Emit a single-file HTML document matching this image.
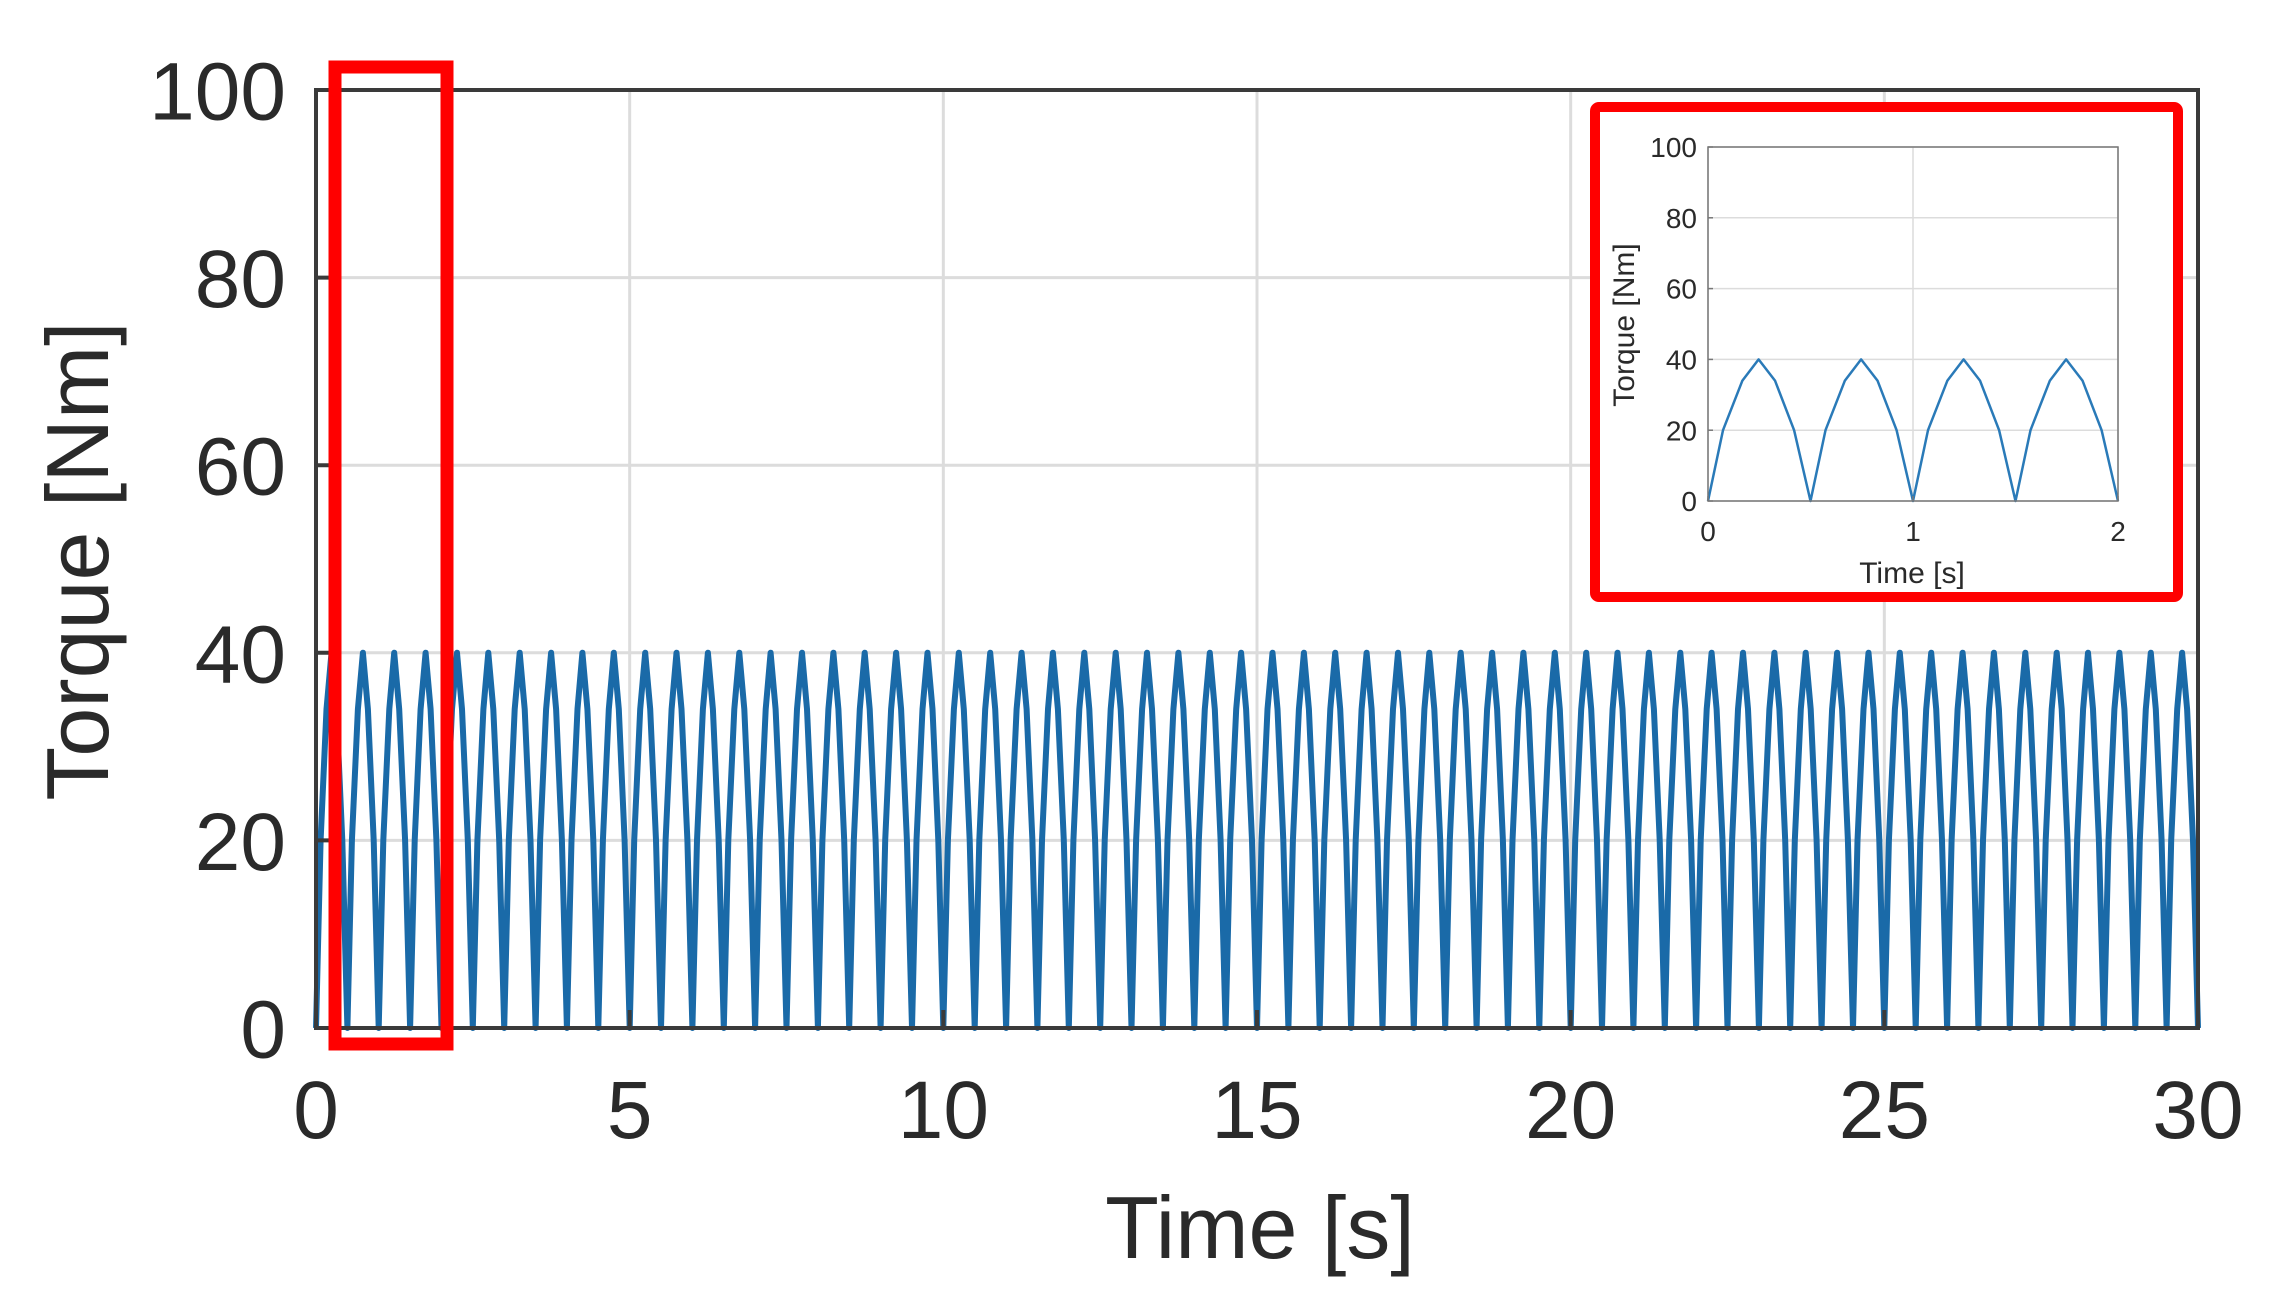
<!DOCTYPE html>
<html><head><meta charset="utf-8"><style>
html,body{margin:0;padding:0;background:#fff;width:2274px;height:1310px;overflow:hidden}
svg{display:block;font-family:"Liberation Sans",Arial,sans-serif}
</style></head><body>
<svg id="chart" width="2274" height="1310" viewBox="0 0 2274 1310" xmlns="http://www.w3.org/2000/svg"></svg>
<script>
// one period of the torque hump (time offset in s, torque in Nm)
const humpTimes = [0, 0.073, 0.168, 0.247, 0.327, 0.42, 0.5];
const humpTorque = [0, 20, 34, 40, 34, 20, 0];
const humpCountMain = 60;
const humpCountInset = 4;
const xTicksMain = [0, 5, 10, 15, 20, 25, 30];
const yTicks = [0, 20, 40, 60, 80, 100];
const xTicksInset = [0, 1, 2];

const NS = "http://www.w3.org/2000/svg";
const svg = document.getElementById('chart');
function mk(tag, attrs, parent){
  const e = document.createElementNS(NS, tag);
  for (const k in attrs) e.setAttribute(k, attrs[k]);
  (parent||svg).appendChild(e);
  return e;
}
function buildSeries(n){
  const t=[], v=[];
  for(let k=0;k<n;k++){
    for(let i=(k===0?0:1);i<humpTimes.length;i++){
      t.push(k*0.5+humpTimes[i]); v.push(humpTorque[i]);
    }
  }
  return {t, v};
}
function drawPlot(o){
  const sx = x => o.L + (x - o.xMin)/(o.xMax-o.xMin)*(o.R-o.L);
  const sy = y => o.B - (y - 0)/(100-0)*(o.B-o.T);
  const g = mk('g',{});
  
  
  o.xTicks.forEach(x=>{
    const l = mk('line',{x1:sx(x),x2:sx(x),y1:o.T,y2:o.B,stroke:'#dcdcdc','stroke-width':o.gw},g);
    
    
  });
  yTicks.forEach(y=>{
    const l = mk('line',{x1:o.L,x2:o.R,y1:sy(y),y2:sy(y),stroke:'#dcdcdc','stroke-width':o.gw},g);
    
    
  });
  const s = buildSeries(o.humps);
  let d='';
  s.t.forEach((t,i)=>{ d += (i?'L':'M') + sx(t).toFixed(1) + ' ' + sy(s.v[i]).toFixed(1) + ' '; });
  const p = mk('path',{d, fill:'none', stroke:o.lc,'stroke-width':o.lw,'stroke-linejoin':'round'},g);
  
  
  const box = mk('rect',{x:o.L,y:o.T,width:o.R-o.L,height:o.B-o.T,fill:'none',stroke:o.axColor,'stroke-width':o.aw},g);
  
  
  o.xTicks.forEach(x=>{
    const tk = mk('line',{x1:sx(x),x2:sx(x),y1:o.B,y2:o.B-o.tl,stroke:o.axColor,'stroke-width':o.aw},g);
    
    
    const tx = mk('text',{x:sx(x),y:o.xLabY,'text-anchor':'middle','font-size':o.fs,fill:'#2a2a2a'},g);
    tx.textContent = x;
    
    
  });
  yTicks.forEach(y=>{
    const tk = mk('line',{x1:o.L,x2:o.L+o.tl,y1:sy(y),y2:sy(y),stroke:o.axColor,'stroke-width':o.aw},g);
    
    
    const tx = mk('text',{x:o.yLabX,y:sy(y)+o.fs*0.36,'text-anchor':'end','font-size':o.fs,fill:'#2a2a2a'},g);
    tx.textContent = y;
    
    
  });
  const xt = mk('text',{x:o.xTitle[0],y:o.xTitle[1],'text-anchor':'middle','font-size':o.tfs,fill:'#2a2a2a'},g);
  xt.textContent='Time [s]';
  
  
  const yt = mk('text',{x:0,y:0,'text-anchor':'middle','font-size':o.tfs,fill:'#2a2a2a',transform:`translate(${o.yTitle[0]},${o.yTitle[1]}) rotate(-90)`},g);
  yt.textContent='Torque [Nm]';
  
  
}
drawPlot({name:'main-plot',L:316,R:2198,T:90,B:1028,xMin:0,xMax:30,xTicks:xTicksMain,humps:humpCountMain,
  gw:3,lw:6,lc:'#1a6aa8',aw:4,tl:18,axColor:'#3a3a3a',fs:82,xLabY:1138,yLabX:286,tfs:88,xTitle:[1260,1258],yTitle:[108,561]});

const hb = mk('rect',{x:335,y:67,width:112,height:977,fill:'none',stroke:'#ff0000','stroke-width':13});



const ib = mk('rect',{x:1595,y:107,width:583,height:490,fill:'#fff',stroke:'#ff0000','stroke-width':10,rx:4});


drawPlot({name:'inset-plot',L:1708,R:2118,T:147,B:501,xMin:0,xMax:2,xTicks:xTicksInset,humps:humpCountInset,
  gw:1.5,lw:2.5,lc:'#2a7ab8',aw:1.5,tl:5,axColor:'#777',fs:28,xLabY:541,yLabX:1697,tfs:30,xTitle:[1912,583],yTitle:[1634,325]});
</script>
</body></html>
